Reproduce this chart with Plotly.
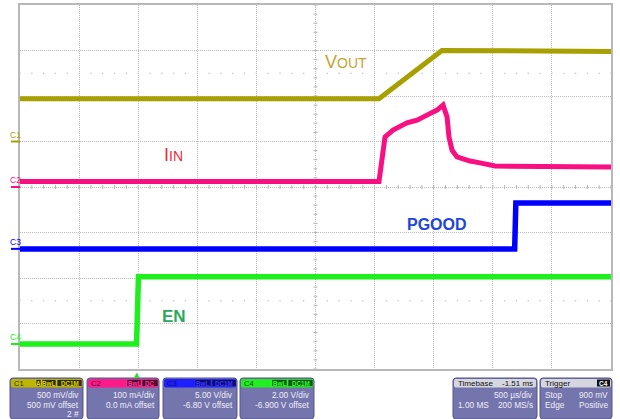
import numpy as np
import plotly.graph_objects as go

W, H = 620, 419
# plot (graticule) area in pixels
L, R, T, B = 20, 611, 5, 369

# ---------------- data (time in ms, trigger at 0) ----------------
t_left, t_right = -0.99, 4.01          # 10 div x 500 us/div, delay -1.51 ms
t_center = 1.51

# C1  VOUT  (V)   500 mV/div, 500 mV offset
vout_t = [-0.99, 2.047, 2.58, 3.20, 4.01]
vout_v = [0.47, 0.47, 1.00, 1.00, 0.99]

# C2  IIN  (mA)   100 mA/div, 0.0 mA offset
iin_t = [-0.99, 2.047, 2.098, 2.166, 2.284, 2.369, 2.453, 2.538, 2.589,
         2.623, 2.639, 2.665, 2.707, 2.817, 2.902, 3.029, 4.01]
iin_ma = [12, 12, 110, 125, 141, 147, 158, 169, 180,
          154, 110, 81, 66, 57, 53, 46, 44]

# C3  PGOOD  (V)  5.00 V/div, -6.80 V offset
pg_t = [-0.99, 3.195, 3.205, 4.01]
pg_v = [0.0, 0.0, 5.05, 5.05]

# C4  EN  (V)     2.00 V/div, -6.900 V offset
en_t = [-0.99, -0.005, 0.0, 0.012, 4.01]
en_v = [0.0, 0.0, 0.7, 2.95, 2.95]

# channel settings: (volts per div, offset)
ch_scale = {"C1": (0.5, 0.5), "C2": (100.0, 0.0), "C3": (5.0, -6.8), "C4": (2.0, -6.9)}
ch_color = {"C1": "#a8a000", "C2": "#fa0f82", "C3": "#0000ff", "C4": "#1ef01e"}

trigger_t = 0.0


def yrange(ch):
    s, off = ch_scale[ch]
    return [-4 * s - off, 4 * s - off]


def px(x):
    return x / W


def py(y):
    return 1 - y / H


FONT = "Liberation Sans, Arial, sans-serif"

fig = go.Figure()

# faint dotted rows (scope graticule detail)
y1r = yrange("C1")
dpv = (y1r[1] - y1r[0]) / 8.0
dots_x = list(np.arange(t_left, t_right + 1e-9, 0.1))
for row in (1.5, 6.5):
    fig.add_trace(go.Scatter(x=dots_x, y=[y1r[0] + row * dpv] * len(dots_x), mode="markers",
                             marker=dict(size=1.6, color="#c4c4c4"), hoverinfo="skip",
                             showlegend=False, yaxis="y"))

# centre-axis minor ticks
tx, ty = [], []
hx = 2.0 / ((R - L) / (t_right - t_left))
hy = 2.0 / ((B - T) / (y1r[1] - y1r[0]))
ycen = (y1r[0] + y1r[1]) / 2
for k in range(41):
    yy = y1r[0] + k * dpv / 5
    tx += [t_center - hx, t_center + hx, None]
    ty += [yy, yy, None]
for k in range(51):
    xx = t_left + k * 0.1
    tx += [xx, xx, None]
    ty += [ycen - hy, ycen + hy, None]
fig.add_trace(go.Scatter(x=tx, y=ty, mode="lines", line=dict(color="#b4b4b4", width=1),
                         hoverinfo="skip", showlegend=False, yaxis="y"))

# signal traces
fig.add_trace(go.Scatter(x=en_t, y=en_v, mode="lines", line=dict(color=ch_color["C4"], width=5.5),
                         yaxis="y4", showlegend=False, name="EN"))
fig.add_trace(go.Scatter(x=pg_t, y=pg_v, mode="lines", line=dict(color=ch_color["C3"], width=5.5),
                         yaxis="y3", showlegend=False, name="PGOOD"))
fig.add_trace(go.Scatter(x=iin_t, y=iin_ma, mode="lines", line=dict(color=ch_color["C2"], width=5),
                         yaxis="y2", showlegend=False, name="IIN"))
fig.add_trace(go.Scatter(x=vout_t, y=vout_v, mode="lines", line=dict(color=ch_color["C1"], width=5),
                         yaxis="y", showlegend=False, name="VOUT"))

dom_x = [px(L), px(R)]
dom_y = [py(B), py(T)]

fig.update_layout(
    width=W, height=H, margin=dict(l=0, r=0, t=0, b=0),
    paper_bgcolor="white", plot_bgcolor="white", hovermode=False,
    xaxis=dict(domain=dom_x, range=[t_left, t_right], tick0=t_left, dtick=0.5,
               showgrid=True, gridcolor="#bcbcbc", griddash="1px,1px", gridwidth=1,
               showticklabels=False, ticks="", zeroline=False,
               showline=True, mirror=True, linecolor="#b8b8b8", linewidth=2),
    yaxis=dict(domain=dom_y, range=y1r, tick0=y1r[0], dtick=dpv,
               showgrid=True, gridcolor="#bcbcbc", griddash="1px,1px", gridwidth=1,
               showticklabels=False, ticks="", zeroline=False,
               showline=True, mirror=True, linecolor="#b8b8b8", linewidth=2),
    yaxis2=dict(domain=dom_y, range=yrange("C2"), overlaying="y", visible=False),
    yaxis3=dict(domain=dom_y, range=yrange("C3"), overlaying="y", visible=False),
    yaxis4=dict(domain=dom_y, range=yrange("C4"), overlaying="y", visible=False),
)

ann = []
shapes = []

# signal labels
ann.append(dict(x=px(323), y=py(62), xref="paper", yref="paper", xanchor="left", yanchor="middle",
                showarrow=False, text="V<span style='font-size:14px'>OUT</span>",
                font=dict(family=FONT, size=18, color="#c6a132")))
ann.append(dict(x=px(162), y=py(155), xref="paper", yref="paper", xanchor="left", yanchor="middle",
                showarrow=False, text="I<span style='font-size:14px'>IN</span>",
                font=dict(family=FONT, size=18, color="#ec2a3c")))
ann.append(dict(x=px(405), y=py(224), xref="paper", yref="paper", xanchor="left", yanchor="middle",
                showarrow=False, text="<b>PGOOD</b>",
                font=dict(family=FONT, size=16, color="#2244dd")))
ann.append(dict(x=px(160), y=py(316), xref="paper", yref="paper", xanchor="left", yanchor="middle",
                showarrow=False, text="<b>EN</b>",
                font=dict(family=FONT, size=17, color="#2ca85a")))

# channel ground markers on the left
for ch in ["C1", "C2", "C3", "C4"]:
    s, off = ch_scale[ch]
    yaxis_ref = {"C1": "y", "C2": "y2", "C3": "y3", "C4": "y4"}[ch]
    shapes.append(dict(type="line", xref="paper", yref=yaxis_ref, x0=px(11), x1=px(20),
                       y0=0, y1=0, line=dict(color=ch_color[ch], width=2)))
    ann.append(dict(x=px(15), y=0, xref="paper", yref=yaxis_ref, yshift=7, xanchor="center",
                    yanchor="middle", showarrow=False, text=ch,
                    font=dict(family=FONT, size=8.5, color=ch_color[ch])))

# trigger marker
ann.append(dict(x=trigger_t, y=py(B), xref="x", yref="paper", xanchor="center", yanchor="top",
                showarrow=False, text="▲", font=dict(family="DejaVu Sans", size=7, color="#22dd22")))


def rpath(x0, y0, x1, y1, r):
    X0, X1, Y0, Y1 = px(x0), px(x1), py(y0), py(y1)
    rx, ry = r / W, r / H
    return (f"M{X0+rx},{Y0} L{X1-rx},{Y0} Q{X1},{Y0} {X1},{Y0-ry} L{X1},{Y1+ry} "
            f"Q{X1},{Y1} {X1-rx},{Y1} L{X0+rx},{Y1} Q{X0},{Y1} {X0},{Y1+ry} "
            f"L{X0},{Y0-ry} Q{X0},{Y0} {X0+rx},{Y0} Z")


BOX_FILL = "#7575ae"
BOX_LINE = "#55558c"
TXT = "#eeeef6"
ROWS = [394.5, 404.5, 413.5]


def text(x, y, s, anchor, color=TXT, size=8.3, bold=False):
    ann.append(dict(x=px(x), y=py(y), xref="paper", yref="paper", xanchor=anchor, yanchor="middle",
                    showarrow=False, text=("<b>%s</b>" % s) if bold else s,
                    font=dict(family=FONT, size=size, color=color)))


def box(x0, x1, header_color):
    shapes.append(dict(type="path", xref="paper", yref="paper", path=rpath(x0, 378, x1, 419, 3),
                       fillcolor=BOX_FILL, line=dict(color=BOX_LINE, width=1)))
    shapes.append(dict(type="path", xref="paper", yref="paper", path=rpath(x0 + 1, 379, x1 - 1, 387.5, 2),
                       fillcolor=header_color, line=dict(width=0)))


def badge(x0, x1, label, fill, color):
    shapes.append(dict(type="rect", xref="paper", yref="paper", x0=px(x0), x1=px(x1),
                       y0=py(386.5), y1=py(379.5), fillcolor=fill, line=dict(color=color, width=0.6)))
    text((x0 + x1) / 2, 383.2, label, "center", color=color, size=6.3, bold=True)


channels = [
    ("C1", 10, 83, "#bdb600", "#2e2c00", "#e0d800", "#2e2c00",
     [("A", 36, 41), ("BwL", 42, 56), ("DC1M", 57, 82)],
     ["500 mV/div", "500 mV offset", "2 #"]),
    ("C2", 87, 159, "#ff1a8a", "#55002a", "#ff3a9a", "#5a0030",
     [("BwL", 127, 141), ("DC", 142, 158)],
     ["100 mA/div", "0.0 mA offset"]),
    ("C3", 163, 237, "#1e1eff", "#0a0a70", "#3a3aff", "#0a0a70",
     [("BwL", 195, 211), ("DC1M", 212, 236)],
     ["5.00 V/div", "-6.80 V offset"]),
    ("C4", 240, 314, "#22ee22", "#0a5a0a", "#30ff30", "#075007",
     [("BwL", 272, 287), ("DC1M", 288, 313)],
     ["2.00 V/div", "-6.900 V offset"]),
]

for name, x0, x1, hc, bfill, bcol, lblc, badges, rows in channels:
    box(x0, x1, hc)
    text(x0 + 2, 383.2, name, "left", color=lblc, size=7.5)
    for lab, a, b in badges:
        badge(a, b, lab, bfill, bcol)
    for r, s in zip(ROWS, rows):
        text(x1 - 2, r, s, "right")

# timebase box
box(453, 537, "#d6d6de")
text(456, 383.2, "Timebase", "left", color="#111111", size=8)
text(535, 383.2, "-1.51 ms", "right", color="#111111", size=8)
text(535, ROWS[0], "500 µs/div", "right")
text(456, ROWS[1], "1.00 MS", "left")
text(535, ROWS[1], "200 MS/s", "right")

# trigger box
box(540, 612, "#d6d6de")
text(543, 383.2, "Trigger", "left", color="#111111", size=8)
shapes.append(dict(type="rect", xref="paper", yref="paper", x0=px(597), x1=px(610),
                   y0=py(386.5), y1=py(379.5), fillcolor="#111111", line=dict(width=0)))
text(603.5, 383.2, "C4", "center", color="#ffffff", size=6.5, bold=True)
text(543, ROWS[0], "Stop", "left")
text(610, ROWS[0], "900 mV", "right")
text(543, ROWS[1], "Edge", "left")
text(610, ROWS[1], "Positive", "right")

fig.update_layout(annotations=ann, shapes=shapes)
fig.write_html("out.html", config={"displayModeBar": False, "staticPlot": True},
               post_script="document.body.style.margin='0';document.body.style.overflow='hidden';"
                           "window.dispatchEvent(new Event('resize'));")
